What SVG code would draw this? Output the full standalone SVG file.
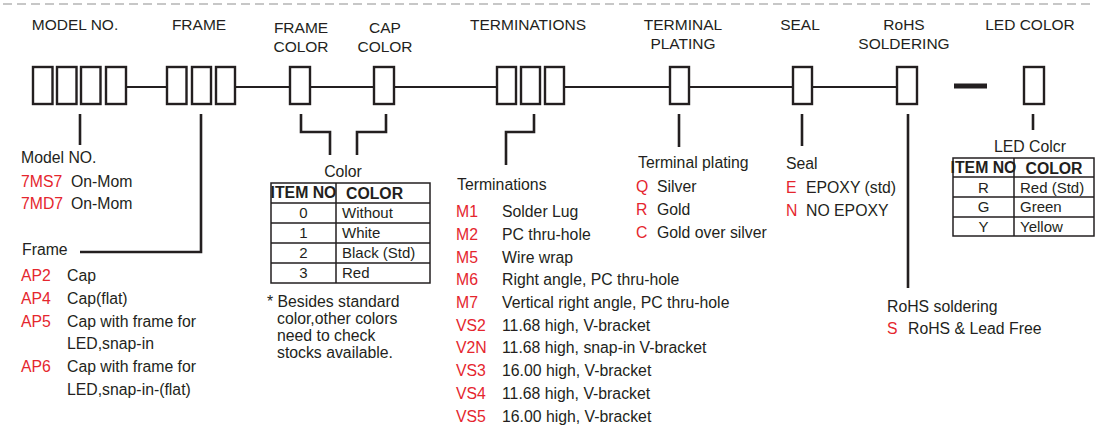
<svg xmlns="http://www.w3.org/2000/svg" width="1097" height="432" viewBox="0 0 1097 432">
<style>
text{font-family:"Liberation Sans",Arial,Helvetica,sans-serif;fill:#231f20;font-size:15.8px}
.h{text-anchor:middle;font-size:15.5px}
.r{fill:#e5262e}
.m{text-anchor:middle}
.b{font-weight:bold}
.t{font-size:15px}
.box{fill:#fff;stroke:#231f20;stroke-width:2.4}
.ln{fill:none;stroke:#231f20;stroke-width:2}
.tk{fill:none;stroke:#231f20;stroke-width:2.6}
.tb{fill:none;stroke:#231f20;stroke-width:1.5}
</style>
<rect width="1097" height="432" fill="#fff"/>
<line x1="3" y1="4" x2="1092" y2="4" stroke="#b5b5b5" stroke-width="1.3" stroke-dasharray="9 5"/>

<g id="connectors">
<path class="ln" d="M126,87H167M235,87H290M310,87H374M394,87H497M564,87H670M689,87H793M812,87H897"/>
<path class="tk" d="M80,114V145"/>
<path class="tk" d="M201,114V252H80"/>
<path class="tk" d="M301,114V132H330V155"/>
<path class="tk" d="M386,114V132H357V155"/>
<path class="tk" d="M534,114V132H506V165"/>
<path class="tk" d="M679,114V147"/>
<path class="tk" d="M802,114V146"/>
<path class="tk" d="M908,114V288"/>
<path class="tk" d="M1033,114V130"/>
</g>

<g id="model">
<text class="h" x="75" y="30">MODEL NO.</text>
<rect class="box" x="33" y="67" width="19.5" height="37"/>
<rect class="box" x="57" y="67" width="19.5" height="37"/>
<rect class="box" x="81" y="67" width="19.5" height="37"/>
<rect class="box" x="106" y="67" width="20" height="37"/>
</g>
<g id="frame">
<text class="h" x="199" y="30">FRAME</text>
<rect class="box" x="167" y="67" width="19.5" height="37"/>
<rect class="box" x="192" y="67" width="19" height="37"/>
<rect class="box" x="216" y="67" width="19" height="37"/>
</g>
<g id="frame-color">
<text class="h" x="301" y="33">FRAME</text>
<text class="h" x="301" y="52">COLOR</text>
<rect class="box" x="290" y="67" width="20" height="37"/>
</g>
<g id="cap-color">
<text class="h" x="385" y="33">CAP</text>
<text class="h" x="385" y="52">COLOR</text>
<rect class="box" x="374" y="67" width="20" height="37"/>
</g>
<g id="terminations">
<text class="h" x="528" y="30">TERMINATIONS</text>
<rect class="box" x="497" y="67" width="19" height="37"/>
<rect class="box" x="521" y="67" width="19" height="37"/>
<rect class="box" x="545" y="67" width="19" height="37"/>
</g>
<g id="terminal-plating">
<text class="h" x="683" y="30">TERMINAL</text>
<text class="h" x="683" y="49">PLATING</text>
<rect class="box" x="670" y="67" width="19" height="37"/>
</g>
<g id="seal">
<text class="h" x="800" y="30">SEAL</text>
<rect class="box" x="793" y="67" width="19" height="37"/>
</g>
<g id="rohs">
<text class="h" x="904" y="30">RoHS</text>
<text class="h" x="904" y="49">SOLDERING</text>
<rect class="box" x="897" y="67" width="20" height="37"/>
</g>
<g id="dash">
<rect x="954" y="83.5" width="33" height="5" fill="#231f20"/>
</g>
<g id="led-color">
<text class="h" x="1030" y="30">LED COLOR</text>
<rect class="box" x="1024" y="67" width="20" height="37"/>
</g>

<g id="model-list">
<text x="21" y="163">Model NO.</text>
<text class="r" x="21" y="187">7MS7</text><text x="71" y="187">On-Mom</text>
<text class="r" x="21" y="209">7MD7</text><text x="71" y="209">On-Mom</text>
</g>

<g id="frame-list">
<text x="22" y="255">Frame</text>
<text class="r" x="21" y="281">AP2</text><text x="67" y="281">Cap</text>
<text class="r" x="21" y="304">AP4</text><text x="67" y="304">Cap(flat)</text>
<text class="r" x="21" y="327">AP5</text><text x="67" y="327">Cap with frame for</text>
<text x="67" y="349">LED,snap-in</text>
<text class="r" x="21" y="372">AP6</text><text x="67" y="372">Cap with frame for</text>
<text x="67" y="395">LED,snap-in-(flat)</text>
</g>

<g id="color-table">
<text class="m" x="343" y="177">Color</text>
<rect class="tb" x="271" y="183" width="159" height="100"/>
<path class="tb" d="M336,183V283M271,203H430M271,223H430M271,243H430M271,263H430"/>
<text class="m b" x="303.5" y="198" font-size="13.5">ITEM NO</text>
<text class="b" x="346" y="199" font-size="15.5">COLOR</text>
<text class="m t" x="303.5" y="218">0</text><text class="t" x="342" y="218">Without</text>
<text class="m t" x="303.5" y="238">1</text><text class="t" x="342" y="238">White</text>
<text class="m t" x="303.5" y="258">2</text><text class="t" x="342" y="258">Black (Std)</text>
<text class="m t" x="303.5" y="278">3</text><text class="t" x="342" y="278">Red</text>
<text x="267" y="307">* Besides standard</text>
<text x="277" y="324">color,other colors</text>
<text x="277" y="341">need to check</text>
<text x="277" y="358">stocks available.</text>
</g>

<g id="terminations-list">
<text x="457" y="190">Terminations</text>
<text class="r" x="456" y="217">M1</text><text x="502" y="217">Solder Lug</text>
<text class="r" x="456" y="240">M2</text><text x="502" y="240">PC thru-hole</text>
<text class="r" x="456" y="263">M5</text><text x="502" y="263">Wire wrap</text>
<text class="r" x="456" y="285">M6</text><text x="502" y="285">Right angle, PC thru-hole</text>
<text class="r" x="456" y="308">M7</text><text x="502" y="308">Vertical right angle, PC thru-hole</text>
<text class="r" x="456" y="331">VS2</text><text x="502" y="331">11.68 high, V-bracket</text>
<text class="r" x="456" y="353">V2N</text><text x="502" y="353">11.68 high, snap-in V-bracket</text>
<text class="r" x="456" y="376">VS3</text><text x="502" y="376">16.00 high, V-bracket</text>
<text class="r" x="456" y="399">VS4</text><text x="502" y="399">11.68 high, V-bracket</text>
<text class="r" x="456" y="422">VS5</text><text x="502" y="422">16.00 high, V-bracket</text>
</g>

<g id="plating-list">
<text x="638" y="168" font-size="16.5">Terminal plating</text>
<text class="r" x="636" y="192">Q</text><text x="657" y="192">Silver</text>
<text class="r" x="636" y="215">R</text><text x="657" y="215">Gold</text>
<text class="r" x="636" y="238">C</text><text x="657" y="238">Gold over silver</text>
</g>

<g id="seal-list">
<text x="786" y="169">Seal</text>
<text class="r" x="786" y="193">E</text><text x="806" y="193">EPOXY (std)</text>
<text class="r" x="786" y="216">N</text><text x="806" y="216">NO EPOXY</text>
</g>

<g id="rohs-list">
<text x="887" y="312">RoHS soldering</text>
<text class="r" x="887" y="334">S</text><text x="908" y="334">RoHS &amp; Lead Free</text>
</g>

<g id="led-table">
<text class="m" x="1030" y="152">LED Colcr</text>
<rect class="tb" x="953" y="158" width="141" height="78"/>
<path class="tb" d="M1014,158V236M953,177H1094M953,197H1094M953,217H1094"/>
<text class="m b" x="983.5" y="172.5" font-size="12.3">ITEM NO</text>
<text class="m b" x="1054" y="174" font-size="14.5">COLOR</text>
<text class="m t" x="983.5" y="193">R</text><text class="t" x="1020" y="193">Red (Std)</text>
<text class="m t" x="983.5" y="212">G</text><text class="t" x="1020" y="212">Green</text>
<text class="m t" x="983.5" y="232">Y</text><text class="t" x="1020" y="232">Yellow</text>
</g>
</svg>
